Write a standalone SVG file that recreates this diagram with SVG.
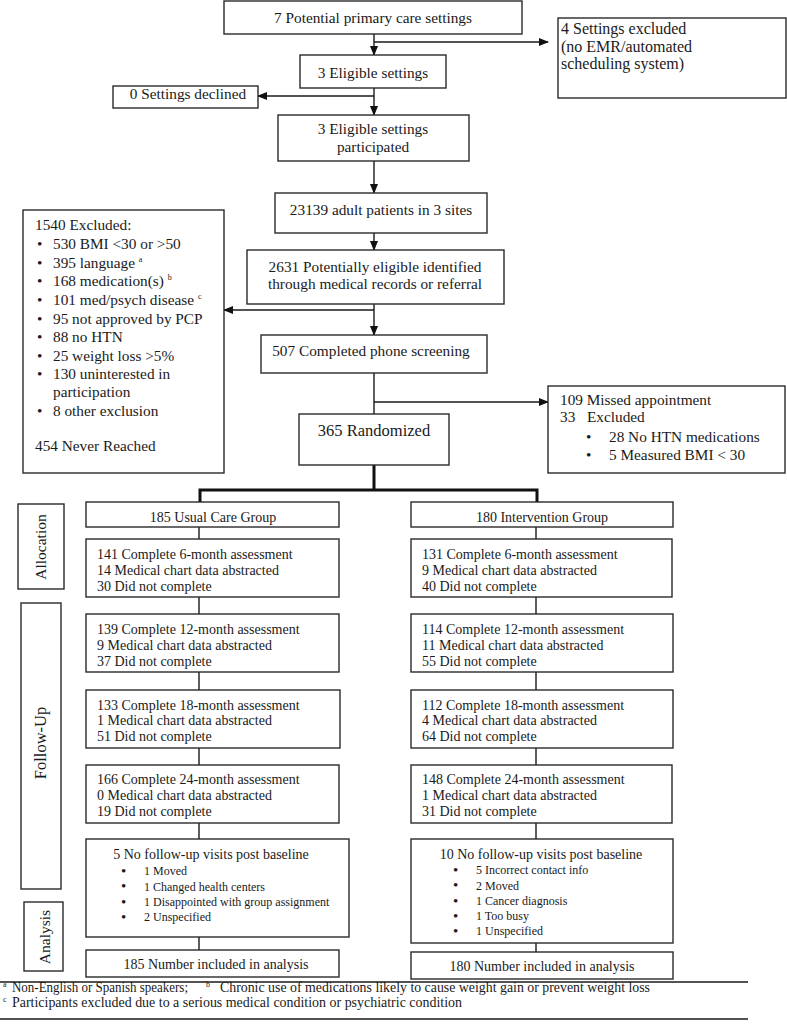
<svg xmlns="http://www.w3.org/2000/svg" width="787" height="1033" viewBox="0 0 787 1033">
<style>
text{font-family:"Liberation Serif","Times New Roman",serif;fill:#1a1a1a;}
.b{fill:#fff;stroke:#2a2a2a;stroke-width:1.4;}
.t{font-size:15.3px;}
.c{text-anchor:middle;}
.g{font-size:14px;}
.s{font-size:12px;}
.d{font-size:15px;}
.f{font-size:13.8px;}
.sup{font-size:8px;}
.ln{stroke:#1a1a1a;stroke-width:1.4;fill:none;}
.thick{stroke:#111;stroke-width:3;fill:none;}
</style>
<defs>
<marker id="ah" markerWidth="10" markerHeight="8" refX="9" refY="4" orient="auto" markerUnits="userSpaceOnUse">
<path d="M0,0 L10,4 L0,8 Z" fill="#111"/>
</marker>
</defs>
<rect width="787" height="1033" fill="#fff"/>

<g id="connectors">
<line class="ln" x1="374" y1="34" x2="374" y2="55" marker-end="url(#ah)"/>
<line class="ln" x1="374" y1="42" x2="548" y2="42" marker-end="url(#ah)"/>
<line class="ln" x1="374" y1="88" x2="374" y2="115" marker-end="url(#ah)"/>
<line class="ln" x1="374" y1="96" x2="258" y2="96" marker-end="url(#ah)"/>
<line class="ln" x1="374" y1="161" x2="374" y2="193" marker-end="url(#ah)"/>
<line class="ln" x1="374" y1="233" x2="374" y2="250" marker-end="url(#ah)"/>
<line class="ln" x1="374" y1="304" x2="374" y2="335" marker-end="url(#ah)"/>
<line class="ln" x1="374" y1="310" x2="224" y2="310" marker-end="url(#ah)"/>
<line class="ln" x1="374" y1="373" x2="374" y2="414"/>
<line class="ln" x1="374" y1="402" x2="548" y2="402" marker-end="url(#ah)"/>
<path class="thick" d="M374,465 V490 M200,503 V490 H537 V503"/>
<path class="ln" d="M199,527 V539 M199,597 V614 M199,672 V690 M199,748 V765 M199,823 V839 M199,937 V950"/>
<path class="ln" d="M536,527 V539 M536,597 V614 M536,672 V690 M536,748 V765 M536,823 V839 M536,943 V952"/>
</g>

<g id="n_potential">
<rect class="b" x="224" y="1" width="298" height="33"/>
<text class="t c" x="373" y="22.5">7 Potential primary care settings</text>
</g>
<g id="n_excl_settings">
<rect class="b" x="558" y="18" width="228" height="80"/>
<text x="561" y="34" style="font-size:16px">4 Settings excluded</text>
<text x="561" y="51.5" style="font-size:16px">(no EMR/automated</text>
<text x="561" y="69" style="font-size:16px">scheduling system)</text>
</g>
<g id="n_eligible">
<rect class="b" x="300" y="55" width="146" height="33"/>
<text class="t c" x="373" y="77.5">3 Eligible settings</text>
</g>
<g id="n_declined">
<rect class="b" x="113" y="86" width="145" height="22"/>
<text class="t c" x="188" y="98.5">0 Settings declined</text>
</g>
<g id="n_participated">
<rect class="b" x="278" y="115" width="191" height="46"/>
<text class="t c" x="373" y="134">3 Eligible settings</text>
<text class="t c" x="373" y="152">participated</text>
</g>
<g id="n_adults">
<rect class="b" x="275" y="193" width="212" height="40"/>
<text class="t c" x="381" y="214.5">23139 adult patients in 3 sites</text>
</g>
<g id="n_potentially">
<rect class="b" x="247" y="250" width="257" height="54"/>
<text class="t c" x="375" y="271.5">2631 Potentially eligible identified</text>
<text class="t c" x="375" y="289">through medical records or referral</text>
</g>
<g id="n_excluded">
<rect class="b" x="23" y="210" width="201" height="263"/>
<text class="t" x="35" y="230">1540 Excluded:</text>
<text class="t" x="37" y="248.5">•</text><text class="t" x="53" y="248.5">530 BMI &lt;30 or &gt;50</text>
<text class="t" x="37" y="267.5">•</text><text class="t" x="53" y="267.5">395 language <tspan class="sup" dy="-6">a</tspan></text>
<text class="t" x="37" y="286">•</text><text class="t" x="53" y="286">168 medication(s) <tspan class="sup" dy="-6">b</tspan></text>
<text class="t" x="37" y="304.5">•</text><text class="t" x="53" y="304.5">101 med/psych disease <tspan class="sup" dy="-6">c</tspan></text>
<text class="t" x="37" y="323.5">•</text><text class="t" x="53" y="323.5">95 not approved by PCP</text>
<text class="t" x="37" y="342">•</text><text class="t" x="53" y="342">88 no HTN</text>
<text class="t" x="37" y="361">•</text><text class="t" x="53" y="361">25 weight loss &gt;5%</text>
<text class="t" x="37" y="379">•</text><text class="t" x="53" y="379">130 uninterested in</text>
<text class="t" x="53" y="397">participation</text>
<text class="t" x="37" y="415.5">•</text><text class="t" x="53" y="415.5">8 other exclusion</text>
<text class="t" x="35" y="451">454 Never Reached</text>
</g>
<g id="n_phone">
<rect class="b" x="261" y="335" width="226" height="38"/>
<text class="t c" x="371" y="356">507 Completed phone screening</text>
</g>
<g id="n_randomized">
<rect class="b" x="299" y="414" width="150" height="51"/>
<text class="c" x="374" y="436" style="font-size:16.5px">365 Randomized</text>
</g>
<g id="n_missed">
<rect class="b" x="548" y="386" width="237" height="87"/>
<text class="t" x="560" y="405">109 Missed appointment</text>
<text class="t" x="560" y="422">33</text><text class="t" x="587" y="422">Excluded</text>
<text class="t" x="586" y="442">•</text><text class="t" x="609" y="442">28 No HTN medications</text>
<text class="t" x="586" y="460">•</text><text class="t" x="609" y="460">5 Measured BMI &lt; 30</text>
</g>

<g id="l_allocation">
<rect class="b" x="18" y="504" width="46" height="85"/>
<text class="c" transform="translate(45.5,547) rotate(-90)" style="font-size:15.5px">Allocation</text>
</g>
<g id="l_followup">
<rect class="b" x="21" y="603" width="40" height="286"/>
<text class="c" transform="translate(46,743) rotate(-90)" style="font-size:16.5px">Follow-Up</text>
</g>
<g id="l_analysis">
<rect class="b" x="24" y="902" width="39" height="69"/>
<text class="c" transform="translate(49.5,937) rotate(-90)" style="font-size:15.5px">Analysis</text>
</g>

<g id="n_usual">
<rect class="b" x="86" y="502" width="253" height="25"/>
<text class="g c" x="213" y="521.5">185 Usual Care Group</text>
</g>
<g id="n_u6">
<rect class="b" x="86" y="539" width="253" height="58"/>
<text class="g" x="97" y="559">141 Complete 6-month assessment</text>
<text class="g" x="97" y="575">14 Medical chart data abstracted</text>
<text class="g" x="97" y="591">30 Did not complete</text>
</g>
<g id="n_u12">
<rect class="b" x="86" y="614" width="253" height="58"/>
<text class="g" x="97" y="634">139 Complete 12-month assessment</text>
<text class="g" x="97" y="649.5">9 Medical chart data abstracted</text>
<text class="g" x="97" y="666">37 Did not complete</text>
</g>
<g id="n_u18">
<rect class="b" x="86" y="690" width="254" height="58"/>
<text class="g" x="97" y="709.5">133 Complete 18-month assessment</text>
<text class="g" x="97" y="724.5">1 Medical chart data abstracted</text>
<text class="g" x="97" y="741">51 Did not complete</text>
</g>
<g id="n_u24">
<rect class="b" x="86" y="765" width="253" height="58"/>
<text class="g" x="97" y="784">166 Complete 24-month assessment</text>
<text class="g" x="97" y="799.5">0 Medical chart data abstracted</text>
<text class="g" x="97" y="816">19 Did not complete</text>
</g>
<g id="n_unf">
<rect class="b" x="86" y="839" width="263" height="98"/>
<text class="g c" x="211" y="859">5 No follow-up visits post baseline</text>
<text class="d" x="121" y="875.5">•</text><text class="s" x="144" y="875">1 Moved</text>
<text class="d" x="121" y="891">•</text><text class="s" x="144" y="890.5">1 Changed health centers</text>
<text class="d" x="121" y="906.5">•</text><text class="s" x="144" y="906">1 Disappointed with group assignment</text>
<text class="d" x="121" y="921.5">•</text><text class="s" x="144" y="921">2 Unspecified</text>
</g>
<g id="n_u185">
<rect class="b" x="86" y="950" width="253" height="27"/>
<text class="g c" x="216" y="969">185 Number included in analysis</text>
</g>

<g id="n_interv">
<rect class="b" x="411" y="502" width="262" height="25"/>
<text class="g c" x="542" y="521.5">180 Intervention Group</text>
</g>
<g id="n_i6">
<rect class="b" x="411" y="539" width="261" height="58"/>
<text class="g" x="422" y="559">131 Complete 6-month assessment</text>
<text class="g" x="422" y="575">9 Medical chart data abstracted</text>
<text class="g" x="422" y="591">40 Did not complete</text>
</g>
<g id="n_i12">
<rect class="b" x="411" y="614" width="262" height="58"/>
<text class="g" x="422" y="634">114 Complete 12-month assessment</text>
<text class="g" x="422" y="649.5">11 Medical chart data abstracted</text>
<text class="g" x="422" y="666">55 Did not complete</text>
</g>
<g id="n_i18">
<rect class="b" x="411" y="690" width="262" height="58"/>
<text class="g" x="422" y="709.5">112 Complete 18-month assessment</text>
<text class="g" x="422" y="724.5">4 Medical chart data abstracted</text>
<text class="g" x="422" y="741">64 Did not complete</text>
</g>
<g id="n_i24">
<rect class="b" x="411" y="765" width="261" height="58"/>
<text class="g" x="422" y="784">148 Complete 24-month assessment</text>
<text class="g" x="422" y="799.5">1 Medical chart data abstracted</text>
<text class="g" x="422" y="816">31 Did not complete</text>
</g>
<g id="n_inf">
<rect class="b" x="411" y="839" width="262" height="104"/>
<text class="g c" x="541" y="859">10 No follow-up visits post baseline</text>
<text class="d" x="453" y="874.5">•</text><text class="s" x="476" y="874">5 Incorrect contact info</text>
<text class="d" x="453" y="890">•</text><text class="s" x="476" y="889.5">2 Moved</text>
<text class="d" x="453" y="905.5">•</text><text class="s" x="476" y="905">1 Cancer diagnosis</text>
<text class="d" x="453" y="920.5">•</text><text class="s" x="476" y="920">1 Too busy</text>
<text class="d" x="453" y="935.5">•</text><text class="s" x="476" y="935">1 Unspecified</text>
</g>
<g id="n_i180">
<rect class="b" x="411" y="952" width="262" height="27"/>
<text class="g c" x="542" y="971">180 Number included in analysis</text>
</g>

<g id="footnotes">
<line class="ln" x1="0" y1="982" x2="748" y2="982"/>
<line class="ln" x1="0" y1="1019" x2="748" y2="1019"/>
<text class="sup" x="3" y="987">a</text>
<text class="f" x="12" y="992" textLength="176" lengthAdjust="spacingAndGlyphs">Non-English or Spanish speakers;</text>
<text class="sup" x="206" y="987">b</text>
<text class="f" x="220" y="992" textLength="430" lengthAdjust="spacingAndGlyphs">Chronic use of medications likely to cause weight gain or prevent weight loss</text>
<text class="sup" x="3" y="1001.5">c</text>
<text class="f" x="12" y="1006.5" textLength="450" lengthAdjust="spacingAndGlyphs">Participants excluded due to a serious medical condition or  psychiatric condition</text>
</g>
</svg>
